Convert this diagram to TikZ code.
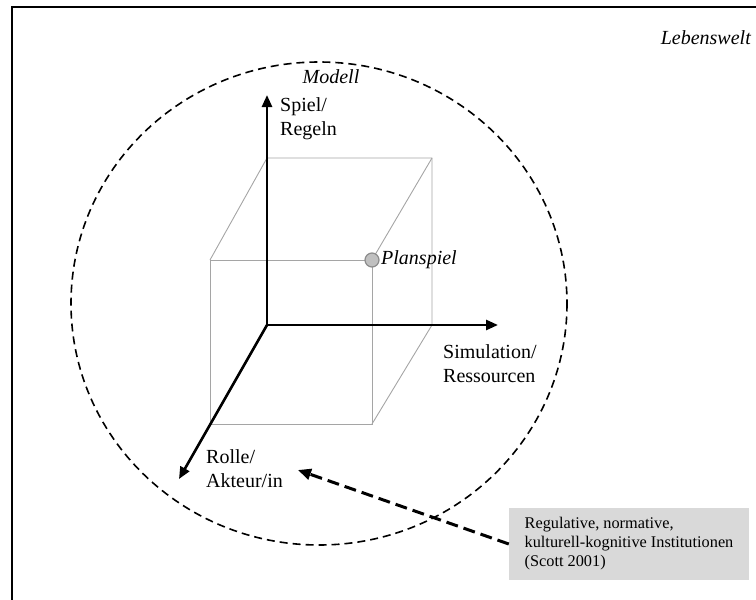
\documentclass[tikz,border=0pt]{standalone}
\usepackage{fontspec}
\setmainfont{Liberation Serif}
\usetikzlibrary{arrows.meta}
\definecolor{boxgray}{RGB}{217,217,217}
\definecolor{cubegray}{RGB}{165,165,165}
\definecolor{dotfill}{RGB}{192,192,192}
\definecolor{dotline}{RGB}{140,140,140}
\begin{document}
\begin{tikzpicture}[x=1pt,y=-1pt,
  frame/.style={line width=2.4pt,line cap=rect},
  world/.style={line width=1.6pt,dash pattern=on 8pt off 5pt},
  axisarrow/.style={line width=2.6pt,line cap=round,-{Triangle[length=12pt,width=10pt]}},
  cubeline/.style={draw=cubegray,line width=0.9pt},
  lbl/.style={font=\fontsize{20}{24}\selectfont,align=left,inner sep=0pt,anchor=west},
  ilbl/.style={font=\fontsize{20}{24}\selectfont\itshape,inner sep=0pt},
  infobox/.style={fill=boxgray,minimum width=240pt,minimum height=72pt,align=left,inner sep=0pt,
    font=\fontsize{16.3}{19}\selectfont},
  dotstyle/.style={circle,fill=dotfill,draw=dotline,line width=1.2pt,minimum size=14pt,inner sep=0pt},
  hint/.style={line width=3pt,dash pattern=on 12pt off 6pt,-{Triangle[length=13pt,width=11pt]}}
]
\useasboundingbox (0,0) rectangle (756,600);
% outer frame (Lebenswelt)
\draw[frame] (12,602) -- (12,7) -- (758,7);
\node[ilbl,anchor=east] (lw) at (751,38) {Lebenswelt};
% model ellipse
\draw[world] (319,303.5) ellipse [x radius=248, y radius=241.5];
\node[ilbl] (modell) at (331,77) {Modell};
% cube corners
\coordinate (A) at (210,260);
\coordinate (B) at (372,260);
\coordinate (C) at (372,424);
\coordinate (D) at (210,424);
\coordinate (E) at (267,158);
\coordinate (F) at (432,158);
\coordinate (G) at (432,325);
\coordinate (O) at (267,325);
\draw[cubeline] (A) -- (B) -- (C) -- (D) -- cycle;
\draw[cubeline] (A) -- (E) -- (F) -- (G) -- (C);
\draw[cubeline] (B) -- (F);
% axes
\coordinate (ytip) at (267,95);
\coordinate (xtip) at (498,325);
\coordinate (ztip) at (179,479);
\draw[axisarrow] (O) -- (ytip);
\draw[axisarrow] (O) -- (xtip);
\draw[axisarrow] (O) -- (ztip);
\node[lbl] (spiel) at (280,118.5) {Spiel/\\Regeln};
\node[lbl] (sim) at (443,364) {Simulation/\\Ressourcen};
\node[lbl] (rolle) at (206,469) {Rolle/\\Akteur/in};
% Planspiel
\node[dotstyle] (dot) at (B) {};
\node[ilbl,anchor=west] (plan) at (381,260) {Planspiel};
% institutions box
\node[infobox] (inst) at (629,544) {Regulative, normative,\\kulturell-kognitive Institutionen\\(Scott 2001)};
\coordinate (rtip) at (298,470);
\draw[hint] (inst.west) -- (rtip);
\end{tikzpicture}
\end{document}
